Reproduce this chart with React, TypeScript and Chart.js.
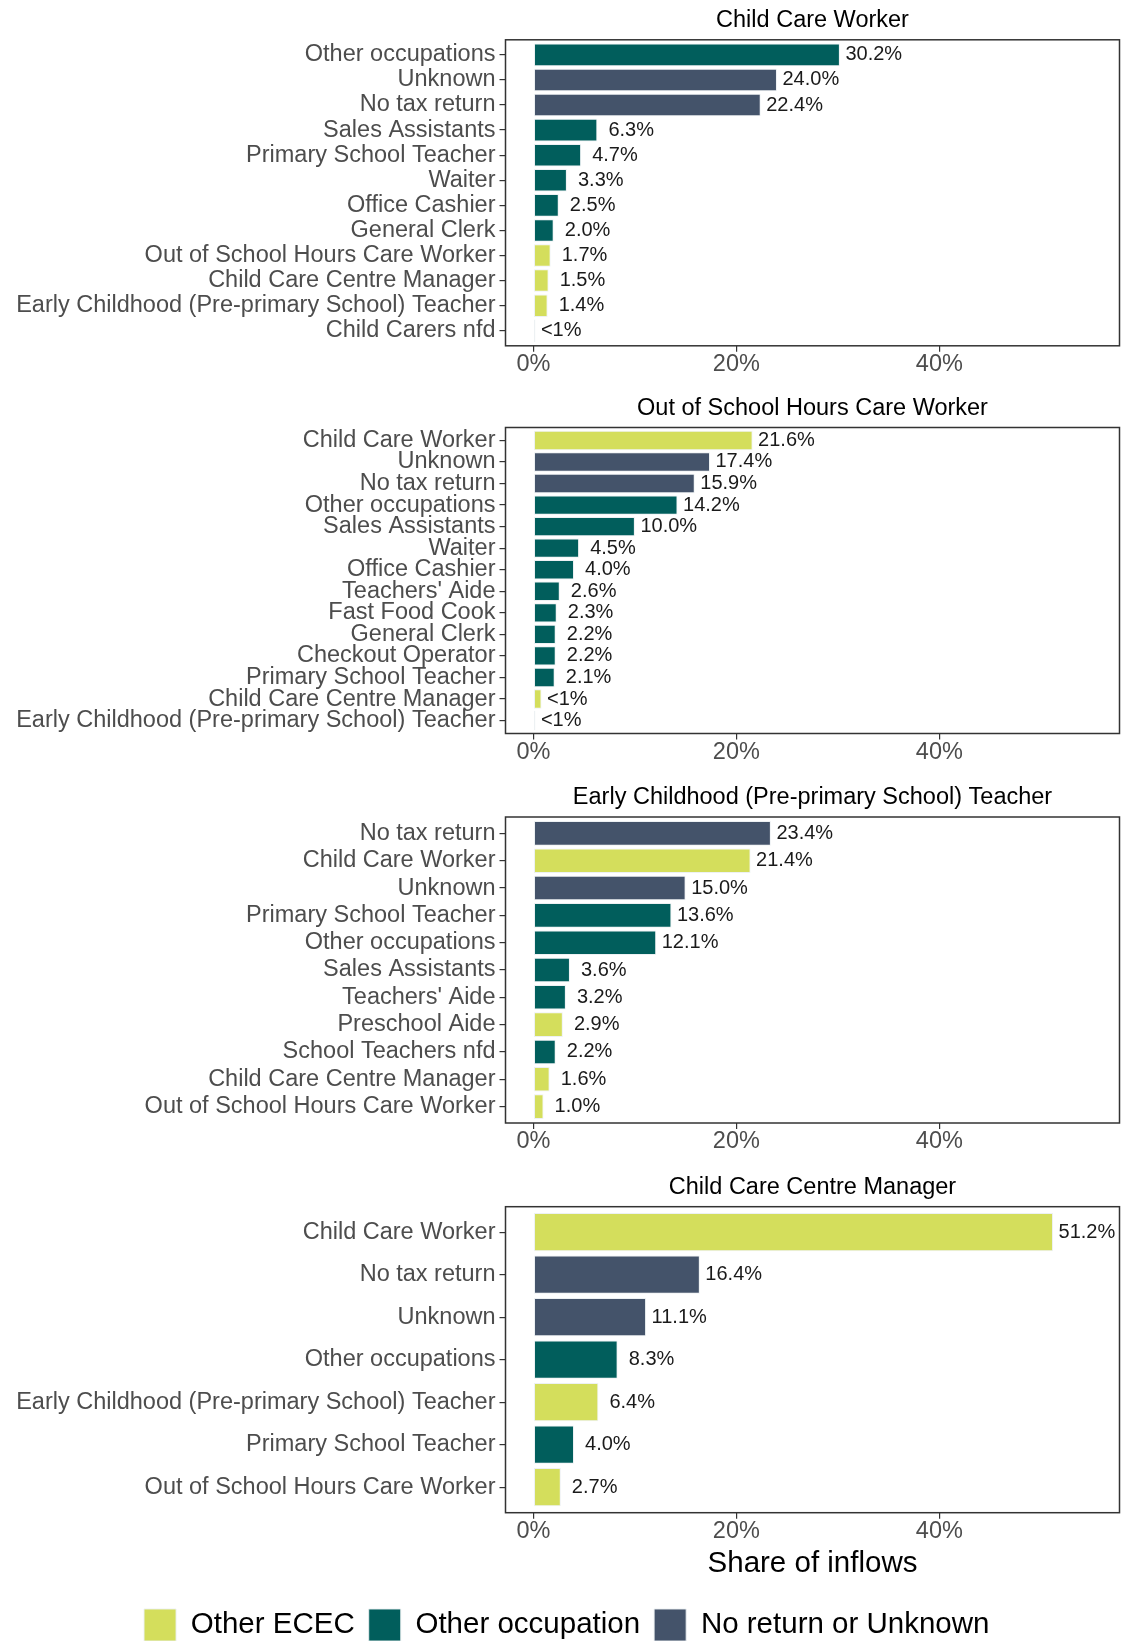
import React, { useEffect, useRef } from "react";
import { Chart, registerables } from "chart.js";

Chart.register(...registerables);

// ---------------- Data ----------------
const groupNames = ["Other ECEC", "Other occupation", "No return or Unknown"];
const groupColors = ["#d4de5c", "#015e5c", "#44536a"];
// group index: 0 = Other ECEC, 1 = Other occupation, 2 = No return or Unknown

const p1Title = "Child Care Worker";
const p1Categories = [
  "Other occupations",
  "Unknown",
  "No tax return",
  "Sales Assistants",
  "Primary School Teacher",
  "Waiter",
  "Office Cashier",
  "General Clerk",
  "Out of School Hours Care Worker",
  "Child Care Centre Manager",
  "Early Childhood (Pre-primary School) Teacher",
  "Child Carers nfd",
];
const p1Values = [30.2, 24.0, 22.4, 6.3, 4.7, 3.3, 2.5, 2.0, 1.7, 1.5, 1.4, 0.2];
const p1Groups = [1, 2, 2, 1, 1, 1, 1, 1, 0, 0, 0, 0];

const p2Title = "Out of School Hours Care Worker";
const p2Categories = [
  "Child Care Worker",
  "Unknown",
  "No tax return",
  "Other occupations",
  "Sales Assistants",
  "Waiter",
  "Office Cashier",
  "Teachers' Aide",
  "Fast Food Cook",
  "General Clerk",
  "Checkout Operator",
  "Primary School Teacher",
  "Child Care Centre Manager",
  "Early Childhood (Pre-primary School) Teacher",
];
const p2Values = [21.6, 17.4, 15.9, 14.2, 10.0, 4.5, 4.0, 2.6, 2.3, 2.2, 2.2, 2.1, 0.8, 0.2];
const p2Groups = [0, 2, 2, 1, 1, 1, 1, 1, 1, 1, 1, 1, 0, 0];

const p3Title = "Early Childhood (Pre-primary School) Teacher";
const p3Categories = [
  "No tax return",
  "Child Care Worker",
  "Unknown",
  "Primary School Teacher",
  "Other occupations",
  "Sales Assistants",
  "Teachers' Aide",
  "Preschool Aide",
  "School Teachers nfd",
  "Child Care Centre Manager",
  "Out of School Hours Care Worker",
];
const p3Values = [23.4, 21.4, 15.0, 13.6, 12.1, 3.6, 3.2, 2.9, 2.2, 1.6, 1.0];
const p3Groups = [2, 0, 2, 1, 1, 1, 1, 0, 1, 0, 0];

const p4Title = "Child Care Centre Manager";
const p4Categories = [
  "Child Care Worker",
  "No tax return",
  "Unknown",
  "Other occupations",
  "Early Childhood (Pre-primary School) Teacher",
  "Primary School Teacher",
  "Out of School Hours Care Worker",
];
const p4Values = [51.2, 16.4, 11.1, 8.3, 6.4, 4.0, 2.7];
const p4Groups = [0, 2, 2, 1, 0, 1, 0];

const xTickValues = [0, 20, 40];
const xAxisTitle = "Share of inflows";

// ---------------- Layout / style ----------------
const FONT = '"Liberation Sans", Arial, Helvetica, sans-serif';
const PAGE_W = 1121;
const PAGE_H = 1641;
const LEFT_PAD = 14;
const BOX_LEFT = 505.5;
const BOX_RIGHT = 1119.5;
const BOX_H = 306;
const BOX_TOPS = [39.8, 427.5, 817, 1206.7];
const X_MIN = -2.75;
const X_MAX = 57.75;
const TITLE_FONT = 23.5;
const TITLE_LH = 1.2;
const TITLE_GAP = 19 - (TITLE_FONT * TITLE_LH) / 2;
const TITLE_SPACE = TITLE_FONT * TITLE_LH + TITLE_GAP;
const AXIS_FONT = 23.5;
const VALUE_FONT = 20;
const LEGEND_FONT = 29.5;
const X_AXIS_H = 40;
const X_AXIS_H_LAST = 82.3;
const LAST_CANVAS_BOTTOM = 1651;

type Panel = {
  title: string;
  categories: string[];
  values: number[];
  groups: number[];
};

const panels: Panel[] = [
  { title: p1Title, categories: p1Categories, values: p1Values, groups: p1Groups },
  { title: p2Title, categories: p2Categories, values: p2Values, groups: p2Groups },
  { title: p3Title, categories: p3Categories, values: p3Values, groups: p3Groups },
  { title: p4Title, categories: p4Categories, values: p4Values, groups: p4Groups },
];

function fmtLabel(v: number): string {
  if (v < 1) return "<1%";
  return (v < 10 ? " " : "") + v.toFixed(1) + "%";
}

const valueLabelPlugin = {
  id: "valueLabels",
  afterDatasetsDraw(chart: any) {
    const { ctx, chartArea } = chart;
    const meta = chart.getDatasetMeta(0);
    const data = chart.data.datasets[0].data as { x: number; y: number }[];
    ctx.save();
    // panel border
    ctx.strokeStyle = "#333333";
    ctx.lineWidth = 1.5;
    ctx.strokeRect(
      chartArea.left,
      chartArea.top,
      chartArea.right - chartArea.left,
      chartArea.bottom - chartArea.top
    );
    ctx.font = `${VALUE_FONT}px ${FONT}`;
    ctx.fillStyle = "#1a1a1a";
    ctx.textBaseline = "middle";
    ctx.textAlign = "left";
    meta.data.forEach((el: any, i: number) => {
      ctx.fillText(fmtLabel(data[i].x), el.x + 5.5, el.y);
    });
    ctx.restore();
  },
};

function layoutFor(index: number) {
  const boxTop = BOX_TOPS[index];
  const rawTop = boxTop - TITLE_SPACE;
  const top = Math.floor(rawTop);
  const padTop = rawTop - top;
  const isLast = index === panels.length - 1;
  let height: number;
  let padBottom = 0;
  if (isLast) {
    height = LAST_CANVAS_BOTTOM - top;
  } else {
    const need = padTop + TITLE_SPACE + BOX_H + X_AXIS_H;
    height = Math.ceil(need);
    padBottom = height - need;
  }
  return { top, height, padTop, padBottom, isLast };
}

function PanelChart({ panel, index }: { panel: Panel; index: number }) {
  const ref = useRef<HTMLCanvasElement | null>(null);
  const lay = layoutFor(index);

  useEffect(() => {
    if (!ref.current) return;
    const n = panel.categories.length;
    const colors = panel.groups.map((g) => groupColors[g]);
    const chart = new Chart(ref.current, {
      type: "bar",
      data: {
        datasets: [
          {
            data: panel.values.map((v, i) => ({ x: v, y: i })),
            backgroundColor: colors,
            borderColor: "rgba(235,240,242,0.9)",
            borderWidth: 1,
            borderSkipped: false,
            barPercentage: 0.9,
            categoryPercentage: 1.0,
          },
        ],
      },
      options: {
        indexAxis: "y",
        responsive: false,
        animation: false,
        events: [],
        layout: {
          padding: {
            top: lay.padTop,
            bottom: lay.padBottom,
            left: LEFT_PAD,
            right: PAGE_W - BOX_RIGHT,
          },
        },
        scales: {
          y: {
            type: "linear",
            reverse: true,
            offset: false,
            bounds: "data",
            min: -0.6,
            max: n - 0.4,
            afterBuildTicks: (scale: any) => {
              scale.ticks = panel.categories.map((_, i) => ({ value: i }));
            },
            afterFit: (scale: any) => {
              scale.width = BOX_LEFT - LEFT_PAD;
            },
            ticks: {
              autoSkip: false,
              padding: 4,
              color: "#4d4d4d",
              font: { family: FONT, size: AXIS_FONT },
              callback: (value: any) => panel.categories[Number(value)] ?? "",
            },
            grid: {
              display: true,
              offset: false,
              drawOnChartArea: false,
              drawTicks: true,
              tickLength: 6,
              color: "#333333",
              lineWidth: 1.2,
            },
            border: { display: false },
          },
          x: {
            type: "linear",
            min: X_MIN,
            max: X_MAX,
            offset: false,
            afterBuildTicks: (scale: any) => {
              scale.ticks = xTickValues.map((v) => ({ value: v }));
            },
            afterFit: (scale: any) => {
              scale.height = lay.isLast ? X_AXIS_H_LAST : X_AXIS_H;
            },
            ticks: {
              autoSkip: false,
              maxRotation: 0,
              padding: 1,
              color: "#4d4d4d",
              font: { family: FONT, size: AXIS_FONT, lineHeight: 1 },
              callback: (value: any) => `${value}%`,
            },
            grid: {
              display: true,
              offset: false,
              drawOnChartArea: false,
              drawTicks: true,
              tickLength: 6,
              color: "#333333",
              lineWidth: 1.2,
            },
            border: { display: false },
            title: {
              display: lay.isLast,
              text: xAxisTitle,
              color: "#000000",
              font: { family: FONT, size: LEGEND_FONT, lineHeight: 1 },
              padding: { top: 0, bottom: 16.8 },
            },
          },
        },
        plugins: {
          title: {
            display: true,
            text: panel.title,
            fullSize: false,
            color: "#000000",
            font: { family: FONT, size: TITLE_FONT, weight: "normal", lineHeight: TITLE_LH },
            padding: { top: 0, bottom: TITLE_GAP },
          },
          legend: {
            display: lay.isLast,
            position: "bottom",
            onClick: () => {},
            labels: {
              boxWidth: 32,
              boxHeight: 32,
              padding: 14,
              color: "#000000",
              font: { family: FONT, size: LEGEND_FONT },
              generateLabels: () =>
                groupNames.map((name, i) => ({
                  text: name,
                  fillStyle: groupColors[i],
                  strokeStyle: "rgba(235,240,242,0.9)",
                  lineWidth: 1,
                  hidden: false,
                  datasetIndex: 0,
                })),
            },
          },
          tooltip: { enabled: false },
        },
      } as any,
      plugins: [valueLabelPlugin],
    });
    return () => chart.destroy();
  }, []);

  return (
    <canvas
      ref={ref}
      width={PAGE_W}
      height={lay.height}
      style={{ position: "absolute", left: 0, top: lay.top, width: PAGE_W, height: lay.height }}
    />
  );
}

export default function App() {
  return (
    <div
      style={{
        position: "absolute",
        left: 0,
        top: 0,
        width: PAGE_W,
        height: PAGE_H,
        overflow: "hidden",
        background: "#ffffff",
      }}
    >
      {panels.map((p, i) => (
        <PanelChart key={i} panel={p} index={i} />
      ))}
    </div>
  );
}
